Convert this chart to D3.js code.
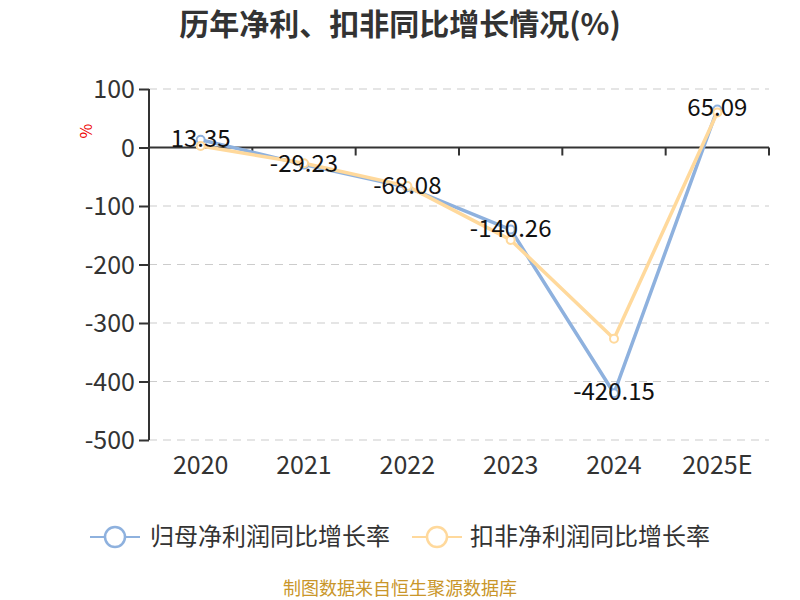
<!DOCTYPE html>
<html><head><meta charset="utf-8">
<script src="https://cdn.jsdelivr.net/npm/d3@7"></script>
<style>body{margin:0;background:#fff;}</style>
</head><body>
<svg id="c" width="800" height="600"></svg>
<script>
const categories = ["2020","2021","2022","2023","2024","2025E"];
const seriesNames = ["归母净利润同比增长率","扣非净利润同比增长率"];
const netProfit = [13.35, -29.23, -68.08, -140.26, -420.15, 65.09];
const deductedProfit = [2.5, -27, -66, -158, -327, 60];
const yTicks = [100, 0, -100, -200, -300, -400, -500];
const colors = ["#8EB1DE", "#FFD99C"];

const svg = d3.select("#c");
const font = "'Noto Sans CJK SC', 'Noto Sans', sans-serif";
const m = {left:149, right:769, top:89, bottom:440};
const fmt = v => String(v.toFixed(2)).replace("\u2212","-");
const fmtInt = v => String(v);

const x = d3.scaleBand().domain(categories).range([m.left, m.right]);
const y = d3.scaleLinear().domain([-500, 100]).range([m.bottom, m.top]);

// title
svg.append("text").attr("x", 400).attr("y", 35).attr("text-anchor","middle")
  .attr("font-family", font).attr("font-size", 30).attr("font-weight","bold").attr("fill","#333")
  .text("历年净利、扣非同比增长情况(%)");

// grid
svg.append("g").selectAll("line").data(yTicks.filter(d=>d!==0)).join("line")
  .attr("x1", m.left).attr("x2", m.right).attr("y1", d=>y(d)).attr("y2", d=>y(d))
  .attr("stroke","#ccc").attr("stroke-width",1.2).attr("stroke-dasharray","8,6");

// y axis
const ya = svg.append("g").attr("transform",`translate(${m.left},0)`)
  .call(d3.axisLeft(y).tickValues(yTicks).tickSize(10).tickPadding(4).tickFormat(fmtInt));
ya.select(".domain").attr("stroke","#333").attr("stroke-width",2).attr("d", `M0,${m.top}V${m.bottom}`);
ya.selectAll(".tick line").attr("stroke","#333").attr("stroke-width",2);
ya.selectAll(".tick text").attr("font-family", font).attr("font-size", 25).attr("fill","#333")
  .attr("dy","0.35em");

// x axis at zero
const xa = svg.append("g").attr("transform",`translate(0,${y(0)})`)
  .call(d3.axisBottom(x).tickSize(8).tickFormat(""));
xa.select(".domain").attr("stroke","#333").attr("stroke-width",2).attr("d", `M${m.left},0H${m.right}`);
xa.selectAll(".tick line").attr("stroke","#333").attr("stroke-width",2)
  .attr("transform", `translate(${x.bandwidth()/2},0)`);
// x labels at bottom
svg.append("g").selectAll("text").data(categories).join("text")
  .attr("x", d=>x(d)+x.bandwidth()/2).attr("y", 474).attr("text-anchor","middle")
  .attr("font-family", font).attr("font-size", 25).attr("fill","#333").text(d=>d);

// unit label
svg.append("text").attr("transform","translate(92,131) rotate(-90)").attr("text-anchor","middle")
  .attr("font-family", font).attr("font-size", 16).attr("fill","#e00").text("%");

const cx = d => x(d)+x.bandwidth()/2;
const line = d3.line().x((d,i)=>cx(categories[i])).y(d=>y(d));
[netProfit, deductedProfit].forEach((s,k)=>{
  svg.append("path").datum(s).attr("d", line).attr("fill","none")
    .attr("stroke", colors[k]).attr("stroke-width",3.5).attr("stroke-linejoin","round");
});
[netProfit, deductedProfit].forEach((s,k)=>{
  svg.append("g").selectAll("circle").data(s).join("circle")
    .attr("cx",(d,i)=>cx(categories[i])).attr("cy",d=>y(d)).attr("r",4)
    .attr("fill","#fff").attr("stroke",colors[k]).attr("stroke-width",2);
});
// labels
svg.append("g").selectAll("text").data(netProfit).join("text")
  .attr("x",(d,i)=>cx(categories[i])).attr("y",d=>y(d)+7).attr("text-anchor","middle")
  .attr("font-family", font).attr("font-size", 24).attr("fill","#111")
  .text(d=>fmt(d));

// legend
const lg = [{x:90, tx:150},{x:412, tx:470}];
lg.forEach((p,k)=>{
  svg.append("line").attr("x1",p.x).attr("x2",p.x+50).attr("y1",537).attr("y2",537)
    .attr("stroke",colors[k]).attr("stroke-width",2);
  svg.append("circle").attr("cx",p.x+25).attr("cy",537).attr("r",10)
    .attr("fill","#fff").attr("stroke",colors[k]).attr("stroke-width",2.5);
  svg.append("text").attr("x",p.tx).attr("y",545).attr("font-family",font).attr("font-size",24)
    .attr("fill","#333").text(seriesNames[k]);
});

svg.append("text").attr("x",400).attr("y",595).attr("text-anchor","middle")
  .attr("font-family",font).attr("font-size",18).attr("fill","#C9962A").text("制图数据来自恒生聚源数据库");
</script>
</body></html>
